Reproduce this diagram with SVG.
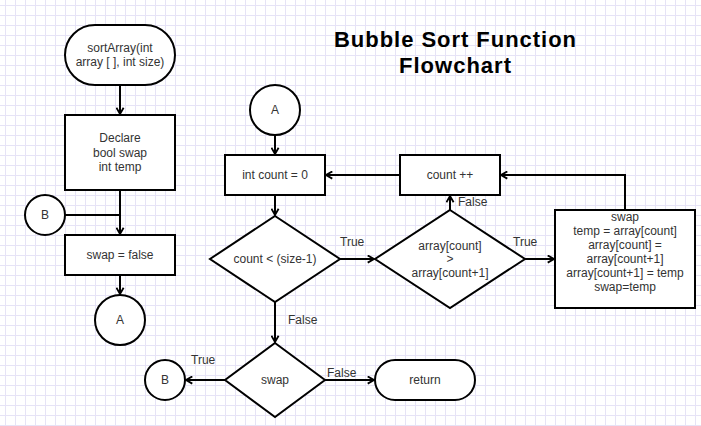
<svg xmlns="http://www.w3.org/2000/svg" width="701" height="426" viewBox="0 0 701 426">
<defs>
<pattern id="grid" x="5" y="5" width="10" height="10" patternUnits="userSpaceOnUse">
<path d="M0 0.5H10M0.5 0V10" fill="none" stroke="#e6e3f6" stroke-width="1"/>
</pattern>
<marker id="arr" viewBox="0 0 10 10" refX="9" refY="5" markerWidth="9" markerHeight="9" orient="auto" markerUnits="userSpaceOnUse">
<path d="M2 1L9 5L2 9" fill="none" stroke="#000" stroke-width="2"/>
</marker>
</defs>
<style>
.s{fill:#fff;stroke:#000;stroke-width:2}
.t{font-family:"Liberation Sans",Arial,sans-serif;font-size:12px;fill:#333;text-anchor:middle;dominant-baseline:central}
.l{font-family:"Liberation Sans",Arial,sans-serif;font-size:12px;fill:#333}
.c{fill:none;stroke:#000;stroke-width:2}
.h{font-family:"Liberation Sans",Arial,sans-serif;font-size:22px;font-weight:bold;fill:#000;text-anchor:middle}
</style>
<rect width="701" height="426" fill="#fff"/>
<rect width="701" height="426" fill="url(#grid)"/>
<text class="h" x="455" y="47" textLength="242" lengthAdjust="spacing">Bubble Sort Function</text>
<text class="h" x="455" y="73" textLength="112" lengthAdjust="spacing">Flowchart</text>
<g id="connectors">
<path class="c" d="M120 85V114" marker-end="url(#arr)"/>
<path class="c" d="M120 190V234" marker-end="url(#arr)"/>
<path class="c" d="M65 215H120"/>
<path class="c" d="M120 275V294" marker-end="url(#arr)"/>
<path class="c" d="M275 135V154" marker-end="url(#arr)"/>
<path class="c" d="M275 195V215" marker-end="url(#arr)"/>
<path class="c" d="M400 175H326" marker-end="url(#arr)"/>
<path class="c" d="M340 259H374" marker-end="url(#arr)"/>
<path class="c" d="M450 210V196" marker-end="url(#arr)"/>
<path class="c" d="M525 259H554" marker-end="url(#arr)"/>
<path class="c" d="M625 210V175H501" marker-end="url(#arr)"/>
<path class="c" d="M275 302V342" marker-end="url(#arr)"/>
<path class="c" d="M225 380H186" marker-end="url(#arr)"/>
<path class="c" d="M325 380H374" marker-end="url(#arr)"/>
<text class="l" x="340" y="246">True</text>
<text class="l" x="513" y="246">True</text>
<text class="l" x="458" y="206">False</text>
<text class="l" x="288" y="324">False</text>
<text class="l" x="191" y="364">True</text>
<text class="l" x="327" y="377">False</text>
</g>
<g id="start">
<rect class="s" x="65" y="25" width="110" height="60" rx="30"/>
<text class="t" x="120" y="48">sortArray(int</text>
<text class="t" x="120" y="62">array [ ], int size)</text>
</g>
<g id="declare">
<rect class="s" x="65" y="115" width="110" height="75"/>
<text class="t" x="120" y="138">Declare</text>
<text class="t" x="120" y="153">bool swap</text>
<text class="t" x="120" y="167">int temp</text>
</g>
<g id="connB1">
<circle class="s" cx="45" cy="215" r="20"/>
<text class="t" x="45" y="215">B</text>
</g>
<g id="swapfalse">
<rect class="s" x="65" y="235" width="110" height="40"/>
<text class="t" x="120" y="255">swap = false</text>
</g>
<g id="connA1">
<circle class="s" cx="120" cy="320" r="25"/>
<text class="t" x="120" y="320">A</text>
</g>
<g id="connA2">
<circle class="s" cx="275" cy="110" r="25"/>
<text class="t" x="275" y="110">A</text>
</g>
<g id="initcount">
<rect class="s" x="225" y="155" width="100" height="40"/>
<text class="t" x="275" y="175">int count = 0</text>
</g>
<g id="countinc">
<rect class="s" x="400" y="155" width="100" height="40"/>
<text class="t" x="450" y="175">count ++</text>
</g>
<g id="cond1">
<path class="s" d="M275 216L340 259L275 302L210 259Z"/>
<text class="t" x="275" y="259">count &lt; (size-1)</text>
</g>
<g id="cond2">
<path class="s" d="M450 210L525 259L450 308L375 259Z"/>
<text class="t" x="450" y="246">array[count]</text>
<text class="t" x="450" y="259">&gt;</text>
<text class="t" x="450" y="273">array[count+1]</text>
</g>
<g id="swapbox">
<rect class="s" x="555" y="210" width="140" height="98"/>
<text class="t" x="625" y="217">swap</text>
<text class="t" x="625" y="231">temp = array[count]</text>
<text class="t" x="625" y="245">array[count] =</text>
<text class="t" x="625" y="259">array[count+1]</text>
<text class="t" x="625" y="273">array[count+1] = temp</text>
<text class="t" x="625" y="287">swap=temp</text>
</g>
<g id="cond3">
<path class="s" d="M275 343L325 380L275 417L225 380Z"/>
<text class="t" x="275" y="380">swap</text>
</g>
<g id="connB2">
<circle class="s" cx="165" cy="380" r="20"/>
<text class="t" x="165" y="380">B</text>
</g>
<g id="return">
<rect class="s" x="375" y="360" width="100" height="40" rx="20"/>
<text class="t" x="425" y="380">return</text>
</g>
</svg>
